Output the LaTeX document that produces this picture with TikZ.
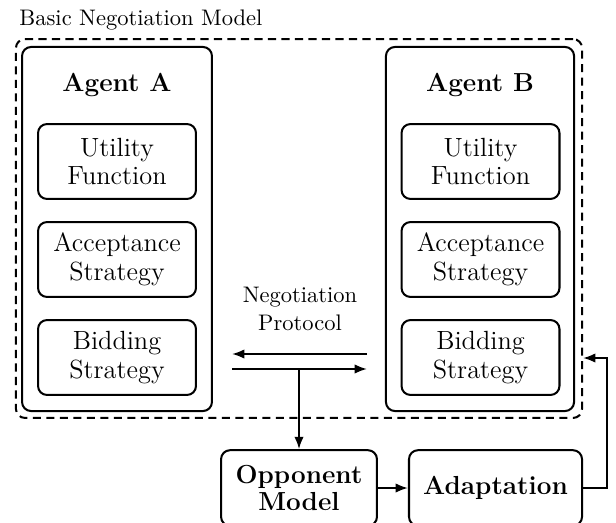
\documentclass[tikz,border=0pt]{standalone}
\usetikzlibrary{arrows.meta}
\begin{document}
\begin{tikzpicture}[x=0.44444pt,y=-0.44444pt,
  box/.style={draw, line width=0.9pt, rounded corners=4pt, align=center, inner sep=0pt},
  innerbox/.style={box, minimum width=70.2pt, minimum height=33.3pt, font=\fontsize{11.7}{12.8}\selectfont},
  agentbox/.style={box, minimum width=84.4pt, minimum height=161.8pt},
  boldtxt/.style={font=\fontsize{11.6}{12.3}\selectfont\bfseries, align=center},
  bottombox/.style={box, minimum height=33.6pt, font=\fontsize{11.6}{12.3}\selectfont\bfseries},
  arr/.style={line width=0.9pt, -{Latex[length=5.5pt,width=4.2pt]}}]
\useasboundingbox (0,0) rectangle (616,522);
% outer dashed model
\node[draw, line width=0.9pt, dash pattern=on 3.6pt off 2.4pt, rounded corners=4pt,
      minimum width=251.6pt, minimum height=168.4pt, inner sep=0pt] (model) at (299,228.5) {};
\node[anchor=west, inner sep=0pt] (label) at (19,20) {Basic Negotiation Model};
% agents
\node[agentbox] (agA) at (117,229) {};
\node[agentbox, minimum width=83.6pt] (agB) at (480,229) {};
\node[boldtxt] (labA) at (117,85) {Agent A};
\node[boldtxt] (labB) at (480,85) {Agent B};
% inner boxes A
\node[innerbox] (uA) at (117,161.5) {Utility\\Function};
\node[innerbox] (aA) at (117,259.5) {Acceptance\\Strategy};
\node[innerbox] (bA) at (117,357.5) {Bidding\\Strategy};
% inner boxes B
\node[innerbox] (uB) at (480.5,161.5) {Utility\\Function};
\node[innerbox] (aB) at (480.5,259.5) {Acceptance\\Strategy};
\node[innerbox] (bB) at (480.5,357.5) {Bidding\\Strategy};
% protocol
\node[align=center, font=\fontsize{10}{12.4}\selectfont] (proto) at (300,309) {Negotiation\\Protocol};
\coordinate (pr) at (367,354);
\coordinate (pl) at (232,354);
\coordinate (ql) at (232,369);
\coordinate (qr) at (367,369);
\coordinate (qm) at (299,369);
% bottom boxes
\node[bottombox, minimum width=69.3pt] (opp) at (299,488) {Opponent\\Model};
\node[bottombox, minimum width=76.9pt] (adapt) at (495.5,488) {Adaptation};
\coordinate (fb) at (583,358);
% connectors
\draw[arr] (pr) -- (pl);
\draw[arr] (ql) -- (qr);
\draw[arr] (qm) -- (opp.north);
\draw[arr] (opp.east) -- (adapt.west);
\draw[arr] (adapt.east) -- ++(24,0) |- (fb);
\end{tikzpicture}
\end{document}
